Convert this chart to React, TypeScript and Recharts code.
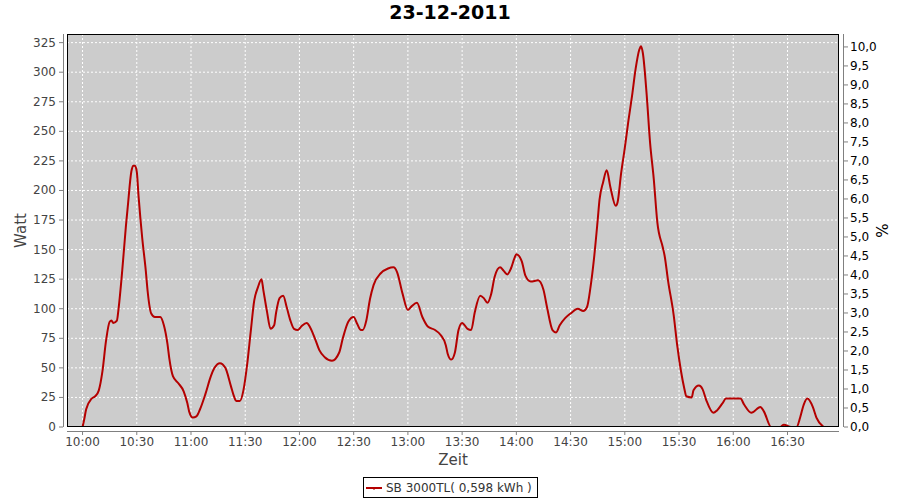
import { CartesianGrid, Line, LineChart, XAxis, YAxis } from "recharts";

// samples of the inverter output (time of day, watt)
const sampleTimes = [
  "10:00", "10:01", "10:02", "10:05", "10:07", "10:09", "10:11", "10:13", "10:15", "10:16",
  "10:17", "10:19", "10:20", "10:22", "10:24", "10:25", "10:27", "10:28", "10:29", "10:30",
  "10:31", "10:33", "10:35", "10:36", "10:38", "10:40", "10:43", "10:45", "10:47", "10:48",
  "10:50", "10:53", "10:56", "10:58", "10:59", "11:01", "11:03", "11:05", "11:08", "11:11",
  "11:13", "11:16", "11:19", "11:22", "11:24", "11:25", "11:27", "11:29", "11:31", "11:33",
  "11:35", "11:37", "11:39", "11:40", "11:42", "11:44", "11:46", "11:47", "11:49", "11:51",
  "11:53", "11:55", "11:57", "11:59", "12:01", "12:04", "12:06", "12:09", "12:11", "12:14",
  "12:18", "12:22", "12:24", "12:27", "12:30", "12:32", "12:34", "12:35", "12:37", "12:39",
  "12:41", "12:45", "12:49", "12:52", "12:54", "12:57", "13:00", "13:02", "13:05", "13:08",
  "13:11", "13:15", "13:18", "13:21", "13:22", "13:24", "13:26", "13:28", "13:30", "13:33",
  "13:35", "13:37", "13:40", "13:42", "13:44", "13:46", "13:48", "13:51", "13:53", "13:55",
  "13:57", "13:59", "14:00", "14:03", "14:05", "14:08", "14:12", "14:15", "14:17", "14:20",
  "14:22", "14:24", "14:27", "14:30", "14:34", "14:37", "14:39", "14:41", "14:43", "14:45",
  "14:46", "14:48", "14:50", "14:52", "14:55", "14:56", "14:58", "15:00", "15:02", "15:04",
  "15:06", "15:08", "15:09", "15:10", "15:12", "15:14", "15:16", "15:18", "15:21", "15:22",
  "15:24", "15:27", "15:29", "15:31", "15:33", "15:34", "15:37", "15:38", "15:41", "15:43",
  "15:45", "15:49", "15:51", "15:54", "15:56", "16:00", "16:04", "16:06", "16:10", "16:15",
  "16:17", "16:21", "16:26", "16:28", "16:32", "16:35", "16:37", "16:39", "16:41", "16:44",
  "16:46", "16:50",
];

const wattValues = [
  0, 7, 15, 24, 26, 31, 47, 73, 89, 90,
  88, 90, 101, 133, 170, 186, 216, 221, 221, 216,
  195, 160, 132, 115, 96, 93, 93, 86, 70, 58,
  43, 37, 30, 20, 13, 8, 9, 15, 28, 43,
  50, 54, 50, 35, 25, 22, 22, 31, 52, 80,
  107, 118, 125, 116, 98, 83, 86, 96, 109, 111,
  101, 90, 83, 82, 85, 88, 84, 73, 65, 59,
  56, 63, 75, 89, 93, 87, 82, 82, 90, 108,
  120, 130, 134, 135, 131, 113, 99, 102, 105, 93,
  85, 82, 78, 69, 62, 57, 63, 82, 88, 83,
  82, 97, 111, 109, 105, 112, 127, 135, 132, 129,
  134, 143, 146, 140, 128, 123, 124, 116, 101, 82,
  80, 86, 92, 96, 100, 98, 101, 118, 143, 175,
  192, 207, 217, 203, 187, 190, 215, 236, 259, 280,
  303, 319, 322, 316, 283, 240, 210, 173, 152, 145,
  123, 95, 69, 48, 32, 26, 25, 31, 35, 32,
  23, 12, 14, 20, 24, 24, 24, 19, 12, 17,
  13, 0, 0, 2, 0, 0, 8, 19, 24, 17,
  8, 0,
];

const timeTicks = [
  "10:00", "10:30", "11:00", "11:30", "12:00", "12:30", "13:00",
  "13:30", "14:00", "14:30", "15:00", "15:30", "16:00", "16:30",
];
const wattTicks = [0, 25, 50, 75, 100, 125, 150, 175, 200, 225, 250, 275, 300, 325];
const percentTicks = [
  0, 0.5, 1, 1.5, 2, 2.5, 3, 3.5, 4, 4.5, 5, 5.5, 6, 6.5, 7, 7.5, 8, 8.5, 9, 9.5, 10,
];

const seriesName = "SB 3000TL( 0,598 kWh )";

const toMinutes = (hhmm: string) => {
  const [h, m] = hhmm.split(":").map(Number);
  return h * 60 + m;
};
const fmtTime = (mins: number) =>
  `${Math.floor(mins / 60)}:${String(Math.round(mins % 60)).padStart(2, "0")}`;

const chartData = sampleTimes.map((t, i) => ({ t: toMinutes(t), watt: wattValues[i] }));

const W = 900;
const H = 500;
const PLOT_LEFT = 67;
const PLOT_RIGHT = 839;
const PLOT_TOP = 34;
const PLOT_BOTTOM = 427;
const FONT = "'DejaVu Sans', sans-serif";
const RED = "#b40000";

function WattTick(props: any) {
  const { x, y, payload } = props;
  return (
    <g>
      <line x1={x - 8} x2={x - 4} y1={y} y2={y} stroke="#808080" />
      <text x={x - 11} y={y} dy={4} textAnchor="end" fontSize={12} fill="#444" fontFamily={FONT}>
        {payload.value}
      </text>
    </g>
  );
}

function PercentTick(props: any) {
  const { x, y, payload } = props;
  return (
    <g>
      <line x1={x + 5} x2={x + 9} y1={y} y2={y} stroke="#808080" />
      <text x={x + 11} y={y} dy={4} textAnchor="start" fontSize={12} fill="#000" fontFamily={FONT}>
        {Number(payload.value).toFixed(1).replace(".", ",")}
      </text>
    </g>
  );
}

function TimeTick(props: any) {
  const { x, y, payload } = props;
  return (
    <g>
      <line x1={x} x2={x} y1={y + 4} y2={y + 8} stroke="#808080" />
      <text x={x} y={y + 19} textAnchor="middle" fontSize={12} fill="#444" fontFamily={FONT}>
        {fmtTime(payload.value)}
      </text>
    </g>
  );
}

export default function App() {
  return (
    <div
      style={{
        position: "absolute",
        left: 0,
        top: 0,
        width: W,
        height: H,
        background: "#fff",
        fontFamily: FONT,
      }}
    >
      <LineChart
        width={W}
        height={H}
        data={chartData}
        margin={{ top: PLOT_TOP, right: 0, bottom: 0, left: 0 }}
      >
        <CartesianGrid fill="#cccccc" stroke="#ffffff" strokeDasharray="2 2" />
        <XAxis
          dataKey="t"
          type="number"
          domain={[591.4, 1018.5]}
          ticks={timeTicks.map(toMinutes)}
          interval={0}
          height={H - PLOT_BOTTOM}
          tickSize={0}
          tickMargin={0}
          axisLine={false}
          tickLine={false}
          tick={<TimeTick />}
          allowDataOverflow
        />
        <YAxis
          domain={[0, 332.3]}
          ticks={wattTicks}
          interval={0}
          width={PLOT_LEFT}
          tickSize={0}
          tickMargin={0}
          axisLine={false}
          tickLine={false}
          tick={<WattTick />}
          allowDataOverflow
        />
        <YAxis
          yAxisId="pct"
          orientation="right"
          type="number"
          domain={[0, 10.34]}
          ticks={percentTicks}
          interval={0}
          width={W - PLOT_RIGHT}
          tickSize={0}
          tickMargin={0}
          axisLine={false}
          tickLine={false}
          tick={<PercentTick />}
          allowDataOverflow
        />
        <Line
          type="monotone"
          dataKey="watt"
          name={seriesName}
          stroke={RED}
          strokeWidth={2}
          dot={false}
          activeDot={false}
          isAnimationActive={false}
        />
      </LineChart>

      <svg
        width={W}
        height={H}
        style={{ position: "absolute", left: 0, top: 0, pointerEvents: "none" }}
        fontFamily={FONT}
      >
        <rect
          x={PLOT_LEFT + 0.5}
          y={PLOT_TOP + 0.5}
          width={PLOT_RIGHT - PLOT_LEFT - 1}
          height={PLOT_BOTTOM - PLOT_TOP - 1}
          fill="none"
          stroke="#000"
        />
        <line x1={PLOT_LEFT - 3.5} x2={PLOT_LEFT - 3.5} y1={PLOT_TOP} y2={PLOT_BOTTOM} stroke="#808080" />
        <line x1={PLOT_RIGHT + 4.5} x2={PLOT_RIGHT + 4.5} y1={PLOT_TOP} y2={PLOT_BOTTOM} stroke="#808080" />
        <line x1={PLOT_LEFT} x2={PLOT_RIGHT} y1={PLOT_BOTTOM + 4.5} y2={PLOT_BOTTOM + 4.5} stroke="#808080" />
        <text x={450} y={18.5} textAnchor="middle" fontSize={19} fontWeight="bold" fill="#000">
          23-12-2011
        </text>
        <text
          x={26}
          y={(PLOT_TOP + PLOT_BOTTOM) / 2}
          transform={`rotate(-90 26 ${(PLOT_TOP + PLOT_BOTTOM) / 2})`}
          textAnchor="middle"
          fontSize={15}
          fill="#444"
        >
          Watt
        </text>
        <text
          x={888}
          y={(PLOT_TOP + PLOT_BOTTOM) / 2}
          transform={`rotate(-90 888 ${(PLOT_TOP + PLOT_BOTTOM) / 2})`}
          textAnchor="middle"
          fontSize={15}
          fill="#000"
        >
          %
        </text>
        <text x={(PLOT_LEFT + PLOT_RIGHT) / 2} y={465} textAnchor="middle" fontSize={15} fill="#444">
          Zeit
        </text>
      </svg>

      <div
        style={{
          position: "absolute",
          left: 363,
          top: 477,
          width: 173,
          height: 19,
          border: "1px solid #000",
          background: "#fff",
          display: "flex",
          alignItems: "center",
          fontSize: 12,
          color: "#333",
          whiteSpace: "nowrap",
        }}
      >
        <svg width={22} height={19} style={{ flex: "none" }}>
          <line x1={2} x2={18} y1={10} y2={10} stroke={RED} strokeWidth={2} />
          <line x1={10} x2={10} y1={10} y2={12} stroke={RED} strokeWidth={1} />
        </svg>
        <span>{seriesName}</span>
      </div>
    </div>
  );
}
